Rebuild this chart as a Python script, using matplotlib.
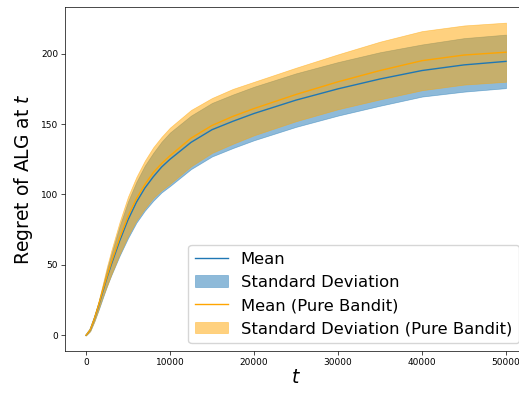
import matplotlib
matplotlib.use("Agg")
import matplotlib.pyplot as plt
import numpy as np

# values
t = [0, 500, 1000, 1500, 2000, 2500, 3000, 4000, 5000, 6000, 7000, 8000, 9000,
     10000, 12500, 15000, 17500, 20000, 25000, 30000, 35000, 40000, 45000, 50000]

mean_alg = [0, 4, 12, 21, 31, 41, 50, 67, 82, 94.5, 104.5, 112.5, 119.5,
            125, 137, 146, 152, 157.5, 167, 175, 182, 188, 192, 194.5]
std_alg = [0, 1, 2, 3, 4.5, 6, 7.5, 10.5, 13, 14.5, 16, 17, 18,
           19, 19, 19, 19, 19, 19, 19, 19, 18.5, 19, 19]

mean_pure = [0, 4, 12, 21.5, 32, 42, 51.5, 69, 84.5, 97, 107, 115.5, 122,
             127.5, 140, 149, 155.5, 161, 171, 180, 188, 195, 199, 201]
std_pure = [0, 1, 2, 3, 4.5, 7, 8.5, 11.5, 14, 15.5, 17, 18, 19,
            20, 20, 19.5, 19.5, 19, 19, 19.5, 20.5, 21, 21, 21]

t = np.array(t)
mean_alg, std_alg = np.array(mean_alg), np.array(std_alg)
mean_pure, std_pure = np.array(mean_pure), np.array(std_pure)

fig = plt.figure(figsize=(5.19, 3.93), dpi=100)
ax = fig.add_axes([65 / 519, 42 / 393, 462 / 519, 344 / 393])

ax.plot(t, mean_alg, color="tab:blue", lw=1.0, label="Mean")
ax.fill_between(t, mean_alg - std_alg, mean_alg + std_alg, color="tab:blue",
                alpha=0.5, lw=0.5, label="Standard Deviation")
ax.plot(t, mean_pure, color="orange", lw=1.0, label="Mean (Pure Bandit)")
ax.fill_between(t, mean_pure - std_pure, mean_pure + std_pure, color="orange",
                alpha=0.5, lw=0.5, label="Standard Deviation (Pure Bandit)")

ax.set_xlabel("$t$", fontsize=13.5, labelpad=1)
ax.set_ylabel("Regret of ALG at $t$", fontsize=13.5, labelpad=4)
ax.tick_params(labelsize=6.5, length=2.9, width=0.5, pad=2)
for s in ax.spines.values():
    s.set_linewidth(0.5)

ax.legend(loc="lower right", fontsize=11.8)

fig.savefig("out.png", dpi=100)
